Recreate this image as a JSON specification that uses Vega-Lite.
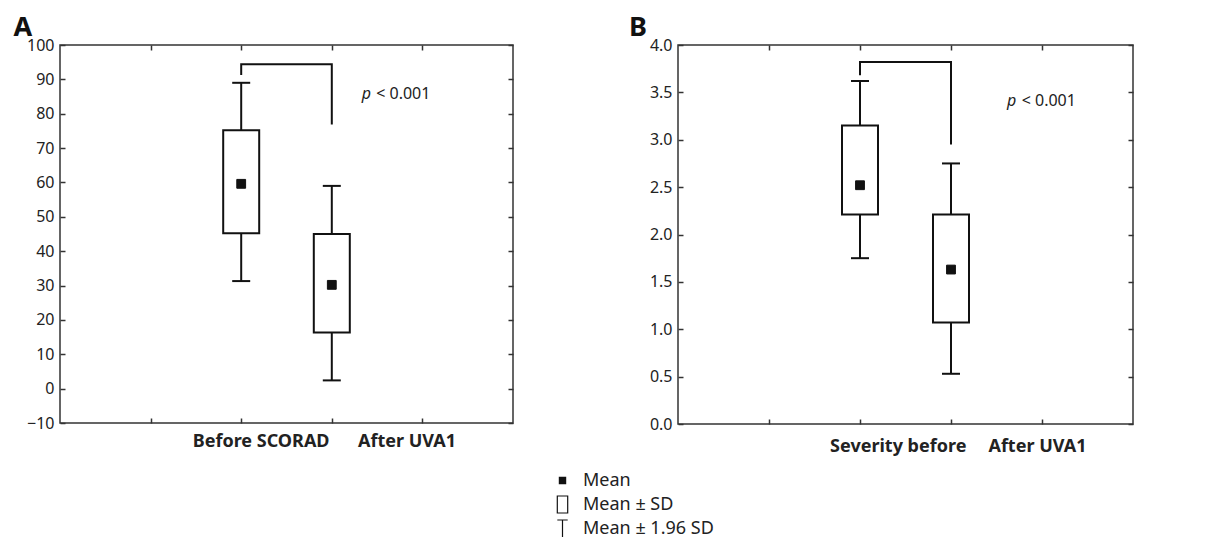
{
  "$schema": "https://vega.github.io/schema/vega-lite/v6.json",
  "padding": {"left": 12, "top": 13, "right": 5, "bottom": 5},
  "config": {
    "font": "Noto Sans",
    "view": {"stroke": "#333", "strokeWidth": 1.5},
    "axis": {"domain": false, "grid": false, "title": null, "tickSize": -5, "tickColor": "#333", "tickWidth": 1.5,
             "labelFont": "Noto Sans", "labelFontSize": 16, "labelColor": "#222", "labelPadding": 11,
             "labelFlush": false, "labelOverlap": false, "labelBound": false},
    "text": {"font": "Noto Sans", "color": "#222"}
  },
  "datasets": {
    "boxA": [
      {"grp": "Before SCORAD", "x": 2, "mean": 59.6, "sdlo": 45.2, "sdhi": 75.2, "cilo": 31.3, "cihi": 89.0, "stat": "Mean"},
      {"grp": "After UVA1", "x": 3, "mean": 30.2, "sdlo": 16.3, "sdhi": 45.0, "cilo": 2.4, "cihi": 59.0, "stat": "Mean"}
    ],
    "brA": [
      {"o": 1, "x": 2, "y": 91.3}, {"o": 2, "x": 2, "y": 94.4},
      {"o": 3, "x": 3, "y": 94.4}, {"o": 4, "x": 3, "y": 76.9}
    ],
    "boxB": [
      {"grp": "Severity before", "x": 2, "mean": 2.52, "sdlo": 2.21, "sdhi": 3.15, "cilo": 1.75, "cihi": 3.62, "stat": "Mean"},
      {"grp": "After UVA1", "x": 3, "mean": 1.63, "sdlo": 1.07, "sdhi": 2.21, "cilo": 0.53, "cihi": 2.75, "stat": "Mean"}
    ],
    "brB": [
      {"o": 1, "x": 2, "y": 3.68}, {"o": 2, "x": 2, "y": 3.82},
      {"o": 3, "x": 3, "y": 3.82}, {"o": 4, "x": 3, "y": 2.95}
    ],
    "one": [{}]
  },
  "bounds": "flush",
  "spacing": 165,
  "hconcat": [
    {
      "width": 453,
      "height": 378,
      "resolve": {"axis": {"x": "independent", "y": "independent"}},
      "layer": [
        {
          "data": {"name": "boxA"},
          "mark": {"type": "rule", "strokeWidth": 2, "color": "#111"},
          "encoding": {
            "x": {"field": "x", "type": "quantitative", "scale": {"domain": [0, 5], "padding": 0, "nice": false, "zero": false},
                  "axis": {"orient": "bottom", "values": [1, 2, 3, 4], "labels": false}},
            "y": {"field": "cilo", "type": "quantitative", "scale": {"domain": [-10, 100], "padding": 0, "nice": false, "zero": false},
                  "axis": {"orient": "left", "values": [-10, 0, 10, 20, 30, 40, 50, 60, 70, 80, 90, 100]}},
            "y2": {"field": "cihi"}
          }
        },
        {
          "data": {"name": "boxA"},
          "mark": {"type": "bar", "size": 36, "fill": "white", "stroke": "#111", "strokeWidth": 2},
          "encoding": {
            "x": {"field": "x", "type": "quantitative",
                  "axis": {"orient": "top", "values": [1, 2, 3, 4], "labels": false}},
            "y": {"field": "sdlo", "type": "quantitative",
                  "axis": {"orient": "right", "values": [-10, 0, 10, 20, 30, 40, 50, 60, 70, 80, 90, 100], "labels": false}},
            "y2": {"field": "sdhi"}
          }
        },
        {
          "data": {"name": "boxA"},
          "mark": {"type": "tick", "orient": "horizontal", "size": 18, "thickness": 2, "color": "#111", "opacity": 1},
          "encoding": {
            "x": {"field": "x", "type": "quantitative", "axis": null},
            "y": {"field": "cilo", "type": "quantitative", "axis": null}
          }
        },
        {
          "data": {"name": "boxA"},
          "mark": {"type": "tick", "orient": "horizontal", "size": 18, "thickness": 2, "color": "#111", "opacity": 1},
          "encoding": {
            "x": {"field": "x", "type": "quantitative", "axis": null},
            "y": {"field": "cihi", "type": "quantitative", "axis": null}
          }
        },
        {
          "data": {"name": "boxA"},
          "mark": {"type": "point", "filled": true, "size": 600, "stroke": "#111", "strokeWidth": 1, "opacity": 1},
          "encoding": {
            "x": {"field": "x", "type": "quantitative", "axis": null},
            "y": {"field": "mean", "type": "quantitative", "axis": null},
            "shape": {"field": "stat", "type": "nominal",
                      "scale": {"domain": ["Mean", "Mean ± SD", "Mean ± 1.96 SD"],
                                "range": ["M-0.36,-0.36H0.36V0.36H-0.36Z", "M-0.6,-0.98H0.6V0.98H-0.6Z", "M-0.6,-0.98H0.6M0,-0.98V0.98"]},
                      "legend": {"title": null, "orient": "none", "legendX": 493, "legendY": 426, "symbolSize": 300,
                                 "symbolStrokeWidth": 1.2, "symbolOpacity": 1, "labelFontSize": 18, "labelFont": "Noto Sans", "labelColor": "#222",
                                 "clipHeight": 19, "rowPadding": 5, "labelOffset": 11, "padding": 0}},
            "fill": {"field": "stat", "type": "nominal",
                     "scale": {"domain": ["Mean", "Mean ± SD", "Mean ± 1.96 SD"], "range": ["#111", "transparent", "transparent"]}}
          }
        },
        {
          "data": {"name": "brA"},
          "mark": {"type": "line", "strokeWidth": 2, "color": "#111"},
          "encoding": {
            "x": {"field": "x", "type": "quantitative", "axis": null},
            "y": {"field": "y", "type": "quantitative", "axis": null},
            "order": {"field": "o"}
          }
        },
        {
          "data": {"name": "one"},
          "mark": {"type": "text", "text": "p", "fontStyle": "italic", "fontSize": 16, "align": "left", "baseline": "alphabetic"},
          "encoding": {"x": {"datum": 3.33, "type": "quantitative", "axis": null}, "y": {"datum": 84.3, "type": "quantitative", "axis": null}}
        },
        {
          "data": {"name": "one"},
          "mark": {"type": "text", "text": "< 0.001", "fontSize": 16, "align": "left", "baseline": "alphabetic"},
          "encoding": {"x": {"datum": 3.49, "type": "quantitative", "axis": null}, "y": {"datum": 84.3, "type": "quantitative", "axis": null}}
        },
        {
          "data": {"name": "one"},
          "mark": {"type": "text", "text": "Before SCORAD", "fontSize": 18, "fontWeight": "bold", "baseline": "middle", "clip": false},
          "encoding": {"x": {"datum": 2.22, "type": "quantitative", "axis": null}, "y": {"datum": -15.5, "type": "quantitative", "axis": null}}
        },
        {
          "data": {"name": "one"},
          "mark": {"type": "text", "text": "After UVA1", "fontSize": 18, "fontWeight": "bold", "baseline": "middle", "clip": false},
          "encoding": {"x": {"datum": 3.83, "type": "quantitative", "axis": null}, "y": {"datum": -15.5, "type": "quantitative", "axis": null}}
        },
        {
          "data": {"name": "one"},
          "mark": {"type": "text", "text": "A", "fontSize": 27, "fontWeight": "bold", "color": "#111", "baseline": "alphabetic", "clip": false},
          "encoding": {"x": {"datum": -0.41, "type": "quantitative", "axis": null}, "y": {"datum": 102.6, "type": "quantitative", "axis": null}}
        }
      ]
    },
    {
      "width": 455,
      "height": 379,
      "resolve": {"axis": {"x": "independent", "y": "independent"}},
      "layer": [
        {
          "data": {"name": "boxB"},
          "mark": {"type": "rule", "strokeWidth": 2, "color": "#111"},
          "encoding": {
            "x": {"field": "x", "type": "quantitative", "scale": {"domain": [0, 5], "padding": 0, "nice": false, "zero": false},
                  "axis": {"orient": "bottom", "values": [1, 2, 3, 4], "labels": false}},
            "y": {"field": "cilo", "type": "quantitative", "scale": {"domain": [0, 4], "padding": 0, "nice": false, "zero": false},
                  "axis": {"orient": "left", "values": [0, 0.5, 1, 1.5, 2, 2.5, 3, 3.5, 4], "format": ".1f"}},
            "y2": {"field": "cihi"}
          }
        },
        {
          "data": {"name": "boxB"},
          "mark": {"type": "bar", "size": 36, "fill": "white", "stroke": "#111", "strokeWidth": 2},
          "encoding": {
            "x": {"field": "x", "type": "quantitative",
                  "axis": {"orient": "top", "values": [1, 2, 3, 4], "labels": false}},
            "y": {"field": "sdlo", "type": "quantitative",
                  "axis": {"orient": "right", "values": [0, 0.5, 1, 1.5, 2, 2.5, 3, 3.5, 4], "labels": false}},
            "y2": {"field": "sdhi"}
          }
        },
        {
          "data": {"name": "boxB"},
          "mark": {"type": "tick", "orient": "horizontal", "size": 18, "thickness": 2, "color": "#111", "opacity": 1},
          "encoding": {
            "x": {"field": "x", "type": "quantitative", "axis": null},
            "y": {"field": "cilo", "type": "quantitative", "axis": null}
          }
        },
        {
          "data": {"name": "boxB"},
          "mark": {"type": "tick", "orient": "horizontal", "size": 18, "thickness": 2, "color": "#111", "opacity": 1},
          "encoding": {
            "x": {"field": "x", "type": "quantitative", "axis": null},
            "y": {"field": "cihi", "type": "quantitative", "axis": null}
          }
        },
        {
          "data": {"name": "boxB"},
          "mark": {"type": "point", "filled": true, "size": 600, "stroke": "#111", "strokeWidth": 1, "opacity": 1},
          "encoding": {
            "x": {"field": "x", "type": "quantitative", "axis": null},
            "y": {"field": "mean", "type": "quantitative", "axis": null},
            "shape": {"field": "stat", "type": "nominal",
                      "scale": {"domain": ["Mean", "Mean ± SD", "Mean ± 1.96 SD"],
                                "range": ["M-0.36,-0.36H0.36V0.36H-0.36Z", "M-0.6,-0.98H0.6V0.98H-0.6Z", "M-0.6,-0.98H0.6M0,-0.98V0.98"]},
                      "legend": {"title": null, "orient": "none", "legendX": 493, "legendY": 426, "symbolSize": 300,
                                 "symbolStrokeWidth": 1.2, "symbolOpacity": 1, "labelFontSize": 18, "labelFont": "Noto Sans", "labelColor": "#222",
                                 "clipHeight": 19, "rowPadding": 5, "labelOffset": 11, "padding": 0}},
            "fill": {"field": "stat", "type": "nominal",
                     "scale": {"domain": ["Mean", "Mean ± SD", "Mean ± 1.96 SD"], "range": ["#111", "transparent", "transparent"]}}
          }
        },
        {
          "data": {"name": "brB"},
          "mark": {"type": "line", "strokeWidth": 2, "color": "#111"},
          "encoding": {
            "x": {"field": "x", "type": "quantitative", "axis": null},
            "y": {"field": "y", "type": "quantitative", "axis": null},
            "order": {"field": "o"}
          }
        },
        {
          "data": {"name": "one"},
          "mark": {"type": "text", "text": "p", "fontStyle": "italic", "fontSize": 16, "align": "left", "baseline": "alphabetic"},
          "encoding": {"x": {"datum": 3.615, "type": "quantitative", "axis": null}, "y": {"datum": 3.356, "type": "quantitative", "axis": null}}
        },
        {
          "data": {"name": "one"},
          "mark": {"type": "text", "text": "< 0.001", "fontSize": 16, "align": "left", "baseline": "alphabetic"},
          "encoding": {"x": {"datum": 3.777, "type": "quantitative", "axis": null}, "y": {"datum": 3.356, "type": "quantitative", "axis": null}}
        },
        {
          "data": {"name": "one"},
          "mark": {"type": "text", "text": "Severity before", "fontSize": 18, "fontWeight": "bold", "baseline": "middle", "clip": false},
          "encoding": {"x": {"datum": 2.42, "type": "quantitative", "axis": null}, "y": {"datum": -0.24, "type": "quantitative", "axis": null}}
        },
        {
          "data": {"name": "one"},
          "mark": {"type": "text", "text": "After UVA1", "fontSize": 18, "fontWeight": "bold", "baseline": "middle", "clip": false},
          "encoding": {"x": {"datum": 3.95, "type": "quantitative", "axis": null}, "y": {"datum": -0.24, "type": "quantitative", "axis": null}}
        },
        {
          "data": {"name": "one"},
          "mark": {"type": "text", "text": "B", "fontSize": 27, "fontWeight": "bold", "color": "#111", "baseline": "alphabetic", "clip": false},
          "encoding": {"x": {"datum": -0.44, "type": "quantitative", "axis": null}, "y": {"datum": 4.095, "type": "quantitative", "axis": null}}
        }
      ]
    }
  ]
}
